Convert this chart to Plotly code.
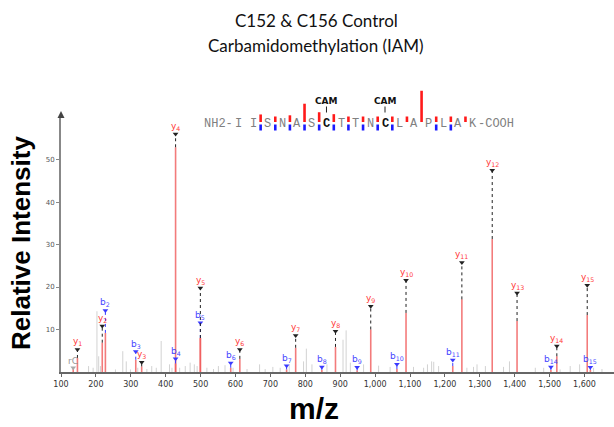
import plotly.graph_objects as go

# ---------------- data ----------------
title_lines = ["C152 & C156 Control", "Carbamidomethylation (IAM)"]
sequence = ["I", "I", "S", "N", "A", "S", "C", "T", "T", "N", "C", "L", "A", "P", "L", "A", "K"]
cam_sites = [6, 10]

frag_labels = ["rC", "y1", "y2", "b2", "b3", "y3", "b4", "y4", "b5", "y5", "b6", "y6", "b7", "y7",
               "b8", "y8", "b9", "y9", "b10", "y10", "b11", "y11", "y12", "y13", "b14", "y14", "y15", "b15"]
frag_mz = [135.0, 147.1, 218.2, 227.2, 314.2, 331.2, 428.3, 428.3, 499.3, 499.3, 586.3, 612.4, 746.4, 772.4,
           847.4, 886.5, 948.5, 987.5, 1062.5, 1088.6, 1222.5, 1248.6, 1335.6, 1406.7, 1503.7, 1520.7, 1607.8, 1616.8]
frag_int = [0.7, 3.3, 6.9, 9.2, 2.9, 1.3, 2.0, 52.9, 8.0, 8.0, 1.0, 3.1, 0.6, 5.7,
            0.5, 5.9, 0.4, 10.0, 0.7, 13.9, 1.4, 17.1, 31.3, 12.0, 0.5, 3.7, 13.4, 0.5]
frag_mark = [1.0, 5.3, 10.8, 14.5, 4.8, 2.3, 3.1, 56.0, 11.6, 19.8, 2.1, 5.3, 1.5, 8.6,
             1.2, 9.6, 1.1, 15.5, 1.8, 21.6, 2.8, 25.8, 47.5, 18.6, 1.2, 6.1, 20.4, 1.1]

gray_mz = [179, 192, 203, 208, 213, 256, 277, 287, 299, 320, 346, 360, 373, 387, 411, 418, 440, 456,
           470, 482, 490, 518, 537, 551, 570, 593, 633, 669, 685, 707, 728, 754, 795, 803, 819, 862,
           908, 917, 929, 967, 1010, 1043, 1110, 1139, 1150, 1162, 1168, 1182, 1263, 1282, 1292, 1316,
           1368, 1385, 1459, 1483, 1530, 1559, 1586, 1626, 1650]
gray_int = [1.4, 1.0, 14.3, 3.7, 1.4, 0.6, 4.9, 2.5, 0.6, 1.0, 0.7, 1.4, 1.0, 7.3, 1.8, 1.0, 1.0, 1.4,
            2.2, 1.8, 1.4, 1.0, 0.7, 1.4, 1.6, 1.0, 0.7, 1.8, 0.7, 1.2, 1.0, 1.8, 2.5, 5.5, 1.8, 1.8,
            7.6, 9.8, 2.2, 1.8, 1.5, 1.2, 1.2, 1.0, 1.8, 2.5, 2.4, 1.4, 1.0, 1.2, 1.8, 1.4,
            1.2, 2.5, 1.0, 1.0, 0.6, 1.4, 1.8, 1.0, 0.7]

x_ticks = [100, 200, 300, 400, 500, 600, 700, 800, 900, 1000, 1100, 1200, 1300, 1400, 1500, 1600]
y_ticks = [10, 20, 30, 40, 50]

# ---------------- layout geometry ----------------
W, H = 614, 427
ML, MR, MT, MB = 61, 0, 115, 55
PW, PH = W - ML - MR, H - MT - MB
X_RANGE = [100, 1684.5]
Y_RANGE = [0, 60.5]


def px(x):
    return (x - ML) / PW


def py(y):
    return (H - MB - y) / PH


ION_COL = {"y": "#ff3b3b", "b": "#4646ff", "r": "#999999"}
DOT_COL = {"y": "#222222", "b": "#3a3aff", "r": "#aaaaaa"}

fig = go.Figure()

# unassigned peaks
gx, gy = [], []
for m, v in zip(gray_mz, gray_int):
    gx += [m, m, None]
    gy += [0, v, None]
fig.add_trace(go.Scatter(x=gx, y=gy, mode="lines", line=dict(color="#d2d2d2", width=1),
                         hoverinfo="skip"))

# matched peaks
mx, my = [], []
for m, v in zip(frag_mz, frag_int):
    mx += [m, m, None]
    my += [0, v, None]
fig.add_trace(go.Scatter(x=mx, y=my, mode="lines", line=dict(color="rgba(240,90,90,0.8)", width=1.6),
                         hoverinfo="skip"))

# dotted connectors and markers per ion type
for t in ["r", "b", "y"]:
    dx, dy, kx, ky = [], [], [], []
    for lab, m, v, k in zip(frag_labels, frag_mz, frag_int, frag_mark):
        if lab[0] != t:
            continue
        dx += [m, m, None]
        dy += [v, k, None]
        kx.append(m)
        ky.append(k)
    fig.add_trace(go.Scatter(x=dx, y=dy, mode="lines",
                             line=dict(color=DOT_COL[t], width=1, dash="dot"), hoverinfo="skip"))
    fig.add_trace(go.Scatter(x=kx, y=ky, mode="markers", cliponaxis=False,
                             marker=dict(symbol="triangle-down", size=5, color=DOT_COL[t]),
                             hoverinfo="skip"))

annotations = []
for lab, m, k in zip(frag_labels, frag_mz, frag_mark):
    t = lab[0]
    txt = lab if t == "r" else f"{lab[0]}<sub>{lab[1:]}</sub>"
    annotations.append(dict(x=m, y=k, xref="x", yref="y", text=txt, showarrow=False,
                            xanchor="center", yanchor="bottom", yshift=0,
                            font=dict(family="DejaVu Sans", size=9, color=ION_COL[t])))


def ptext(x, y, text, font, **kw):
    d = dict(x=px(x), y=py(y), xref="paper", yref="paper", text=text, showarrow=False,
             xanchor="center", yanchor="middle", font=font)
    d.update(kw)
    return d


# titles
annotations.append(ptext(316, 20, title_lines[0], dict(family="Lato", size=17, color="#111")))
annotations.append(ptext(316, 45, title_lines[1], dict(family="Lato", size=17, color="#111")))
annotations.append(ptext(21, 243, "<b>Relative Intensity</b>",
                         dict(family="Liberation Sans", size=26, color="#000"), textangle=-90))
annotations.append(ptext(314, 408, "<b>m/z</b>", dict(family="Liberation Sans", size=30, color="#000")))

# sequence map
shapes = []
SEQ_X0, SEQ_DX, SEQ_Y = 238.7, 14.63, 123.5
mono = dict(family="Liberation Mono", size=12, color="#808080")
for i, aa in enumerate(sequence):
    x = SEQ_X0 + SEQ_DX * i
    if i in cam_sites:
        annotations.append(ptext(x, 101, "<b>CAM</b>", dict(family="DejaVu Sans", size=9, color="#111")))
        shapes.append(dict(type="line", xref="paper", yref="paper", x0=px(x), x1=px(x),
                           y0=py(106.5), y1=py(112.5), line=dict(color="#222", width=1)))
        annotations.append(ptext(x, SEQ_Y, f"<b>{aa}</b>", dict(mono, color="#111")))
    else:
        annotations.append(ptext(x, SEQ_Y, aa, mono))
annotations.append(ptext(SEQ_X0 - 3.6, SEQ_Y, "NH2-", mono, xanchor="right"))
annotations.append(ptext(SEQ_X0 + SEQ_DX * (len(sequence) - 1) + 3.6, SEQ_Y, "-COOH", mono,
                         xanchor="left"))

nres = len(sequence)
obs = {lab: v for lab, v in zip(frag_labels, frag_int)}
for n in range(1, nres):
    xm = SEQ_X0 + SEQ_DX * (n - 1) + SEQ_DX / 2
    ylab = f"y{nres - n}"
    blab = f"b{n}"
    if ylab in obs:
        h = 5.5 + max(0.0, obs[ylab] - 10) * 0.6
        shapes.append(dict(type="rect", xref="paper", yref="paper", x0=px(xm - 1.3), x1=px(xm + 1.3),
                           y0=py(122), y1=py(122 - h), fillcolor="#ff1a1a", line=dict(width=0)))
    if blab in obs:
        shapes.append(dict(type="rect", xref="paper", yref="paper", x0=px(xm - 1.3), x1=px(xm + 1.3),
                           y0=py(130.5), y1=py(124.5), fillcolor="#1a1aff", line=dict(width=0)))

# y-axis arrow head
shapes.append(dict(type="path", xref="paper", yref="paper",
                   path=f"M {px(57.5)} {py(118)} L {px(61)} {py(111)} L {px(64.5)} {py(118)} Z",
                   fillcolor="#444", line=dict(width=0)))

fig.update_layout(
    width=W, height=H,
    margin=dict(l=ML, r=MR, t=MT, b=MB, pad=0, autoexpand=False),
    plot_bgcolor="white", paper_bgcolor="white",
    showlegend=False,
    hovermode=False,
    annotations=annotations,
    shapes=shapes,
    xaxis=dict(range=X_RANGE, showgrid=False, zeroline=False, showline=True, linecolor="#666",
               linewidth=2, ticks="outside", ticklen=3, tickcolor="#666", tickvals=x_ticks,
               ticktext=[f"{v:,}" for v in x_ticks], automargin=False,
               tickfont=dict(family="DejaVu Sans", size=8, color="#333")),
    yaxis=dict(range=Y_RANGE, showgrid=False, zeroline=False, showline=True, linecolor="#888",
               linewidth=2, ticks="outside", ticklen=3, tickcolor="#888", tickvals=y_ticks,
               automargin=False,
               tickfont=dict(family="DejaVu Sans", size=7, color="#555")),
)

fig.write_html("out.html", config={"displayModeBar": False},
               post_script="document.body.style.margin='0';")
